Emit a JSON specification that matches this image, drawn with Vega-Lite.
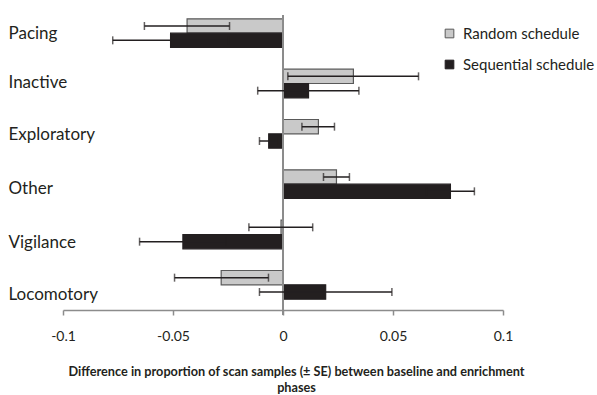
{
  "$schema": "https://vega.github.io/schema/vega-lite/v6.json",
  "width": 440,
  "height": 302,
  "autosize": {"type": "none"},
  "padding": {"left": 63, "top": 8, "right": 94, "bottom": 85},
  "background": "white",
  "config": {
    "view": {"stroke": null},
    "font": "Lato",
    "axis": {"labelFont": "Lato", "titleFont": "Lato"},
    "legend": {"labelFont": "Lato"}
  },
  "data": {
    "values": [
      {"behaviour": "Pacing", "series": "Random schedule", "value": -0.0436, "lo": -0.063, "hi": -0.0243},
      {"behaviour": "Pacing", "series": "Sequential schedule", "value": -0.0511, "lo": -0.0774, "hi": -0.0248},
      {"behaviour": "Inactive", "series": "Random schedule", "value": 0.032, "lo": 0.0022, "hi": 0.0616},
      {"behaviour": "Inactive", "series": "Sequential schedule", "value": 0.0116, "lo": -0.0115, "hi": 0.0345},
      {"behaviour": "Exploratory", "series": "Random schedule", "value": 0.0161, "lo": 0.0086, "hi": 0.0234},
      {"behaviour": "Exploratory", "series": "Sequential schedule", "value": -0.0065, "lo": -0.0107, "hi": -0.0023},
      {"behaviour": "Other", "series": "Random schedule", "value": 0.0243, "lo": 0.0184, "hi": 0.0302},
      {"behaviour": "Other", "series": "Sequential schedule", "value": 0.0761, "lo": 0.0652, "hi": 0.087},
      {"behaviour": "Vigilance", "series": "Random schedule", "value": -0.0009, "lo": -0.0155, "hi": 0.0135},
      {"behaviour": "Vigilance", "series": "Sequential schedule", "value": -0.0455, "lo": -0.0652, "hi": -0.0258},
      {"behaviour": "Locomotory", "series": "Random schedule", "value": -0.0281, "lo": -0.0493, "hi": -0.0066},
      {"behaviour": "Locomotory", "series": "Sequential schedule", "value": 0.0194, "lo": -0.0107, "hi": 0.0495}
    ]
  },
  "encoding": {
    "y": {
      "field": "behaviour",
      "type": "nominal",
      "sort": ["Pacing", "Inactive", "Exploratory", "Other", "Vigilance", "Locomotory"],
      "scale": {"paddingInner": 0.43, "paddingOuter": 0.215},
      "axis": {
        "title": null,
        "domain": false,
        "ticks": false,
        "labelAlign": "left",
        "labelBaseline": "middle",
        "labelPadding": 55,
        "labelFontSize": 17,
        "labelColor": "#231f20",
        "labelOffset": {
          "condition": [
            {"test": "datum.value === 'Other'", "value": 5},
            {"test": "datum.value === 'Vigilance'", "value": 8},
            {"test": "datum.value === 'Locomotory'", "value": 10},
            {"test": "datum.value === 'Inactive'", "value": -1}
          ],
          "value": 1
        }
      }
    },
    "yOffset": {
      "field": "series",
      "type": "nominal",
      "sort": ["Random schedule", "Sequential schedule"],
      "scale": {"paddingInner": 0, "paddingOuter": 0}
    }
  },
  "layer": [
    {
      "mark": {"type": "bar", "strokeWidth": 1.2},
      "encoding": {
        "x": {
          "field": "value",
          "type": "quantitative",
          "scale": {"domain": [-0.1, 0.1], "nice": false, "zero": false},
          "axis": {
            "values": [-0.1, -0.05, 0, 0.05, 0.1],
            "format": "~g",
            "labelExpr": "replace(datum.label, '\u2212', '-')",
            "labelFlush": false,
            "labelOverlap": false,
            "grid": false,
            "domainColor": "#8c8c8c",
            "domainWidth": 1.5,
            "tickColor": "#8c8c8c",
            "tickWidth": 1.5,
            "tickSize": 5,
            "labelFontSize": 14,
            "labelColor": "#231f20",
            "labelPadding": 14,
            "title": ["Difference in proportion of scan samples (± SE) between baseline and enrichment", "phases"],
            "titleFontSize": 12.7,
            "titleFontWeight": "bold",
            "titleColor": "#231f20",
            "titleX": 233,
            "titleY": 55,
            "titleBaseline": "top",
            "titleAnchor": "middle",
            "titleLineHeight": 16
          }
        },
        "fill": {
          "field": "series",
          "type": "nominal",
          "scale": {"domain": ["Random schedule", "Sequential schedule"], "range": ["#c9c9c9", "#231f20"]},
          "legend": {
            "title": null,
            "orient": "none",
            "legendX": 379,
            "legendY": 18,
            "symbolType": "square",
            "symbolSize": 75,
            "symbolStrokeWidth": 1,
            "labelFontSize": 15,
            "labelColor": "#231f20",
            "labelOffset": 6,
            "rowPadding": 15,
            "padding": 0
          }
        },
        "stroke": {
          "field": "series",
          "type": "nominal",
          "scale": {"domain": ["Random schedule", "Sequential schedule"], "range": ["#595959", "#231f20"]},
          "legend": {
            "title": null,
            "orient": "none",
            "legendX": 379,
            "legendY": 18,
            "symbolType": "square",
            "symbolSize": 75,
            "symbolStrokeWidth": 1,
            "labelFontSize": 15,
            "labelColor": "#231f20",
            "labelOffset": 6,
            "rowPadding": 15,
            "padding": 0
          }
        }
      }
    },
    {
      "mark": {"type": "rule", "color": "#8c8c8c", "strokeWidth": 1.8},
      "encoding": {"x": {"datum": 0, "type": "quantitative"}, "y": {"value": 0}, "y2": {"value": 307}}
    },
    {
      "mark": {"type": "rule", "color": "#231f20", "strokeWidth": 1.5},
      "encoding": {
        "x": {"field": "lo", "type": "quantitative"},
        "x2": {"field": "hi"}
      }
    },
    {
      "mark": {"type": "tick", "color": "#231f20", "thickness": 1.5, "size": 8, "orient": "vertical"},
      "encoding": {"x": {"field": "lo", "type": "quantitative"}}
    },
    {
      "mark": {"type": "tick", "color": "#231f20", "thickness": 1.5, "size": 8, "orient": "vertical"},
      "encoding": {"x": {"field": "hi", "type": "quantitative"}}
    }
  ]
}
